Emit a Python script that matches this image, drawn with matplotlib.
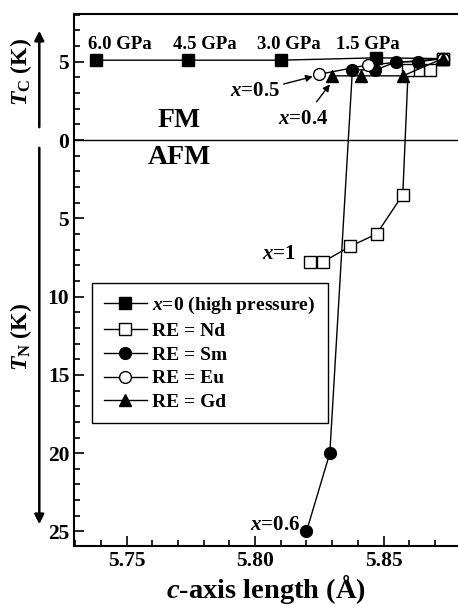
import matplotlib
matplotlib.use("Agg")
import matplotlib.pyplot as plt
from matplotlib.ticker import MultipleLocator, FuncFormatter

plt.rcParams['font.family'] = 'Liberation Serif'
plt.rcParams['font.weight'] = 'bold'
plt.rcParams['mathtext.fontset'] = 'custom'
plt.rcParams['mathtext.rm'] = 'Liberation Serif:bold'
plt.rcParams['mathtext.it'] = 'Liberation Serif:italic:bold'
plt.rcParams['mathtext.bf'] = 'Liberation Serif:bold'

# c-axis length (A) and transition temperature
# y > 0 : T_C (FM), y < 0 : -T_N (AFM)
c_x0 = [5.738, 5.774, 5.810, 5.847, 5.873]
t_x0 = [5.1, 5.1, 5.1, 5.25, 5.2]
pressure_labels = ["6.0 GPa", "4.5 GPa", "3.0 GPa", "1.5 GPa"]

c_nd = [5.873, 5.868, 5.8635, 5.8596, 5.8575, 5.8473, 5.8369, 5.8263, 5.8213]
t_nd = [5.2, 4.5, 4.5, 4.5, -3.5, -6.0, -6.8, -7.8, -7.8]

c_sm = [5.873, 5.8635, 5.855, 5.8466, 5.8379, 5.8291, 5.820]
t_sm = [5.2, 5.0, 5.0, 4.45, 4.5, -20.0, -25.0]

c_eu = [5.873, 5.844, 5.825]
t_eu = [5.2, 4.8, 4.2]

c_gd = [5.873, 5.8576, 5.8414, 5.8298]
t_gd = [5.2, 4.1, 4.1, 4.1]

fig = plt.figure(figsize=(4.58, 6.06), dpi=100)
ax = fig.add_axes([0.1616, 0.099, 0.8384, 0.8779])

ms = 8.5
ax.plot(c_x0, t_x0, '-s', color='k', mfc='k', ms=ms, lw=1, label=r'$\mathit{x}$=0 (high pressure)')
ax.plot(c_nd, t_nd, '-s', color='k', mfc='white', ms=ms - 0.5, lw=1, label='RE = Nd')
ax.plot(c_sm, t_sm, '-o', color='k', mfc='k', ms=ms, lw=1, label='RE = Sm')
ax.plot(c_eu, t_eu, '-o', color='k', mfc='white', ms=ms, lw=1, label='RE = Eu')
ax.plot(c_gd, t_gd, '-^', color='k', mfc='k', ms=ms + 0.5, lw=1, label='RE = Gd')

ax.axhline(0, color='k', lw=1)

# pressure labels above the x=0 points
label_x = [5.7472, 5.7805, 5.8132, 5.8439]
for c, lab in zip(label_x, pressure_labels):
    ax.text(c, 6.13, lab, ha='center', va='center', fontsize=13.5, fontweight='bold')

ax.text(5.7705, 1.25, 'FM', ha='center', va='center', fontsize=20, fontweight='bold')
ax.text(5.7705, -1.1, 'AFM', ha='center', va='center', fontsize=20, fontweight='bold')

ax.annotate(r'$\mathit{x}$=0.5', xy=(c_eu[2] - 0.0015, t_eu[2] - 0.1), xytext=(5.8095, 3.1),
            ha='right', va='center', fontsize=15,
            arrowprops=dict(arrowstyle='-|>', color='k', lw=1, mutation_scale=10, shrinkA=1, shrinkB=2))
ax.annotate(r'$\mathit{x}$=0.4', xy=(c_gd[3], t_gd[3] - 0.4), xytext=(5.8286, 1.35),
            ha='right', va='center', fontsize=15,
            arrowprops=dict(arrowstyle='-|>', color='k', lw=1, mutation_scale=10, shrinkA=4, shrinkB=2))
ax.text(5.8159, -7.3, r'$\mathit{x}$=1', ha='right', va='center', fontsize=15)
ax.text(5.8174, -24.6, r'$\mathit{x}$=0.6', ha='right', va='center', fontsize=15)

ax.set_xlim(5.7295, 5.879)
ax.set_ylim(-25.93, 8.05)
ax.xaxis.set_major_locator(MultipleLocator(0.05))
ax.xaxis.set_minor_locator(MultipleLocator(0.01))
ax.yaxis.set_major_locator(MultipleLocator(5))
ax.yaxis.set_minor_locator(MultipleLocator(1))
ax.yaxis.set_major_formatter(FuncFormatter(lambda v, p: '%d' % abs(round(v))))
ax.xaxis.set_major_formatter(FuncFormatter(lambda v, p: '%.2f' % v))
ax.tick_params(which='both', direction='in', top=False, right=False, labelsize=15.5, width=1.2)
ax.tick_params(which='major', length=7)
ax.tick_params(which='minor', length=4)
for s in ax.spines.values():
    s.set_linewidth(1.5)
ax.spines['right'].set_visible(False)

ax.set_xlabel(r'$\mathit{c}$-axis length (Å)', fontsize=20.5, fontweight='bold', labelpad=1)

# axis labels and arrows on the left
fig.text(0.045, 0.881, r'$\mathit{T}_{\rm C}$ (K)', rotation=90, ha='center', va='center', fontsize=17)
fig.text(0.045, 0.444, r'$\mathit{T}_{\rm N}$ (K)', rotation=90, ha='center', va='center', fontsize=17)
fig.add_artist(matplotlib.patches.FancyArrowPatch((0.0858, 0.7855), (0.0858, 0.9538), transform=fig.transFigure,
                                                  arrowstyle='-|>', mutation_scale=14, color='k', lw=1.8))
fig.add_artist(matplotlib.patches.FancyArrowPatch((0.0858, 0.7607), (0.0858, 0.1304), transform=fig.transFigure,
                                                  arrowstyle='-|>', mutation_scale=14, color='k', lw=1.8))

leg = ax.legend(loc='lower left', bbox_to_anchor=(0.046, 0.2306), borderaxespad=0, fontsize=14,
                handlelength=2.2, handletextpad=0.3, labelspacing=0.32, fancybox=False,
                edgecolor='k', framealpha=1, borderpad=0.62)
leg.get_frame().set_linewidth(1)

fig.savefig('out.png', dpi=100)
